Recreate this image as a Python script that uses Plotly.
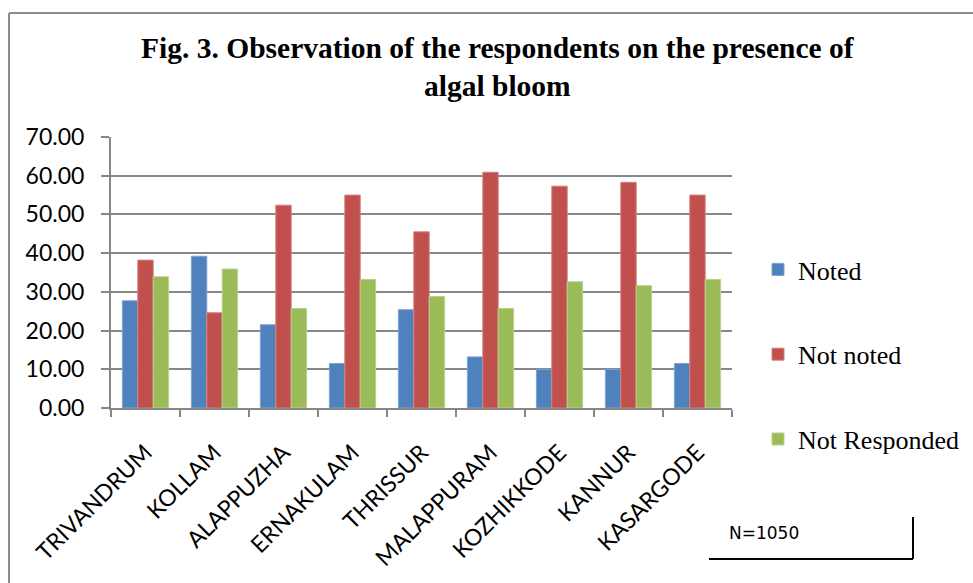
import plotly.graph_objects as go

districts = ["TRIVANDRUM", "KOLLAM", "ALAPPUZHA", "ERNAKULAM", "THRISSUR",
             "MALAPPURAM", "KOZHIKKODE", "KANNUR", "KASARGODE"]
noted = [27.7, 39.2, 21.5, 11.5, 25.4, 13.2, 10.0, 10.0, 11.5]
not_noted = [38.2, 24.6, 52.4, 55.0, 45.5, 60.9, 57.3, 58.3, 55.0]
not_responded = [33.9, 35.9, 25.7, 33.2, 28.8, 25.7, 32.6, 31.6, 33.2]
series_names = ["Noted", "Not noted", "Not Responded"]
colors = ["#4F81BD", "#C0504D", "#9BBB59"]
outlines = ["#7FA3D3", "#D8807D", "#B9D28A"]

W, H = 973, 583
L, R, T, B = 111, 732, 137, 408

def px_x(p):
    return (p - L) / (R - L)

def px_y(p):
    return (B - p) / (B - T)

fig = go.Figure()
for i, (name, vals) in enumerate(zip(series_names, [noted, not_noted, not_responded])):
    fig.add_trace(go.Bar(
        x=districts, y=vals, name=name, legendgroup=name,
        marker=dict(color=colors[i], line=dict(color=outlines[i], width=1)),
    ))

grid = "#878787"
fig.update_layout(
    width=W, height=H,
    margin=dict(l=L, r=W - R, t=T, b=H - B, autoexpand=False),
    paper_bgcolor="white", plot_bgcolor="white",
    barmode="group", bargap=0.33, bargroupgap=0,
    showlegend=True,
    legend=dict(
        x=px_x(758), xanchor="left", y=px_y(246), yanchor="top",
        font=dict(family="Liberation Serif", size=26, color="black"),
        tracegroupgap=48, itemwidth=30,
        bgcolor="rgba(0,0,0,0)",
    ),
    xaxis=dict(
        showline=True, linecolor=grid, linewidth=2,
        ticks="outside", tickson="boundaries", ticklen=7, tickcolor=grid, tickwidth=2,
        tickangle=-45, ticklabelstandoff=20,
        tickfont=dict(family="Lato", size=23, color="black"),
        showgrid=False,
    ),
    yaxis=dict(
        range=[0, 70], dtick=10, tickformat=".2f",
        showline=True, linecolor=grid, linewidth=2,
        ticks="outside", ticklen=8, tickcolor=grid, tickwidth=2,
        ticklabelstandoff=12,
        showgrid=True, gridcolor=grid, gridwidth=2,
        tickfont=dict(family="Lato", size=23, color="black"),
        zeroline=False,
    ),
)

# chart border (top and left edges)
fig.add_shape(type="line", xref="paper", yref="paper",
              x0=px_x(9), x1=px_x(975), y0=px_y(13), y1=px_y(13),
              line=dict(color="#8C8C8C", width=2))
fig.add_shape(type="line", xref="paper", yref="paper",
              x0=px_x(9), x1=px_x(9), y0=px_y(13), y1=px_y(590),
              line=dict(color="#8C8C8C", width=2))

# title
fig.add_annotation(
    text="<b>Fig. 3. Observation of the respondents on the presence of<br>algal bloom</b>",
    xref="paper", yref="paper", x=px_x(498), y=px_y(67),
    xanchor="center", yanchor="middle", showarrow=False,
    font=dict(family="Liberation Serif", size=29.5, color="black"),
)

# N=1050 box
fig.add_annotation(
    text="N=1050", xref="paper", yref="paper", x=px_x(727), y=px_y(533),
    xanchor="left", yanchor="middle", showarrow=False,
    font=dict(family="DejaVu Sans", size=17, color="black"),
)
fig.add_shape(type="line", xref="paper", yref="paper",
              x0=px_x(709), x1=px_x(913), y0=px_y(559), y1=px_y(559),
              line=dict(color="black", width=2))
fig.add_shape(type="line", xref="paper", yref="paper",
              x0=px_x(913), x1=px_x(913), y0=px_y(517), y1=px_y(559),
              line=dict(color="black", width=2))

fig.write_html("out.html")
